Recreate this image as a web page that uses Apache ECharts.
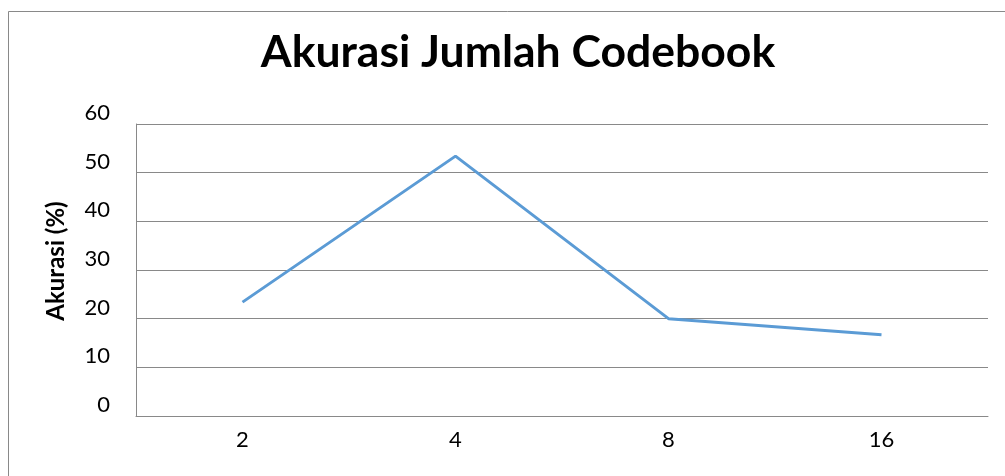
<!DOCTYPE html>
<html><head><meta charset="utf-8">
<script src="https://cdn.jsdelivr.net/npm/echarts@6/dist/echarts.min.js"></script>
<style>html,body{margin:0;padding:0;background:#fff}#c{width:1005px;height:476px}</style>
</head><body><div id="c"></div>
<script>
const categories = ['2', '4', '8', '16'];
const accuracy = [23.4, 53.4, 20.0, 16.7];
const yTicks = [0, 10, 20, 30, 40, 50, 60];

const chart = echarts.init(document.getElementById('c'), null, {renderer: 'canvas'});
chart.setOption({
  animation: false,
  backgroundColor: '#fff',
  title: {
    text: 'Akurasi Jumlah Codebook',
    left: 513, top: 25, textAlign: 'center',
    textStyle: {fontFamily: 'Lato', fontWeight: 'bold', fontSize: 44.5, color: '#000'}
  },
  graphic: [{
    type: 'rect', silent: true, z: -1,
    shape: {x: 8.5, y: 11.5, width: 1100, height: 600},
    style: {fill: 'none', stroke: '#898989', lineWidth: 1}
  }],
  grid: {left: 136, right: 17, top: 124, bottom: 60, containLabel: false},
  xAxis: {
    type: 'category', data: categories, boundaryGap: true,
    axisLine: {show: true, lineStyle: {color: '#898989', width: 1}},
    axisTick: {show: false},
    axisLabel: {color: '#000', fontFamily: 'Lato', fontSize: 22, margin: 13}
  },
  yAxis: {
    type: 'value', min: yTicks[0], max: yTicks[yTicks.length - 1], interval: 10,
    name: 'Akurasi (%)', nameLocation: 'middle', nameGap: 68, nameRotate: 90,
    nameTextStyle: {color: '#000', fontFamily: 'Lato', fontWeight: 'bold', fontSize: 24, padding: [0, 0, 0, 18]},
    axisLine: {show: true, lineStyle: {color: '#898989', width: 1}},
    axisTick: {show: false},
    splitLine: {show: true, lineStyle: {color: '#898989', width: 1}},
    axisLabel: {color: '#000', fontFamily: 'Lato', fontSize: 22, margin: 26, verticalAlign: 'bottom', lineHeight: 22}
  },
  series: [{
    type: 'line', data: accuracy, symbol: 'none',
    lineStyle: {color: '#5B9BD5', width: 3}
  }]
});
</script></body></html>
